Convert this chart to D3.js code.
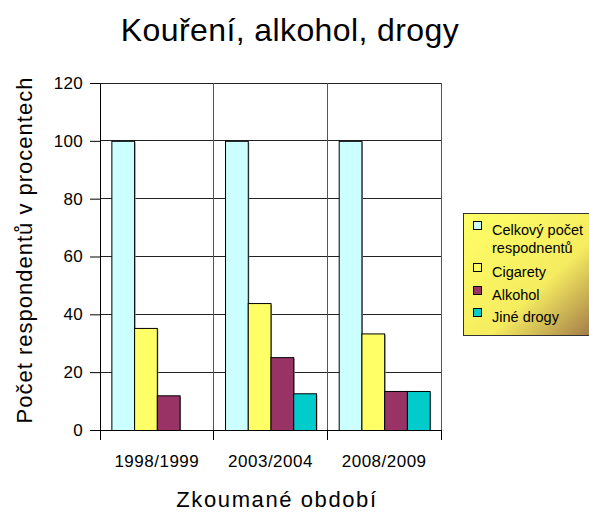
<!DOCTYPE html>
<html>
<head>
<meta charset="utf-8">
<title>Kouření, alkohol, drogy</title>
<script src="https://cdnjs.cloudflare.com/ajax/libs/d3/7.8.5/d3.min.js"></script>
<style>
  body { margin: 0; background: #fff; }
  svg { font-family: "Liberation Sans", Arial, sans-serif; }
</style>
</head>
<body>
<div id="chart"></div>
<script>
// data
var periods = ["1998/1999", "2003/2004", "2008/2009"];
var seriesNames = ["Celkový počet respodnentů", "Cigarety", "Alkohol", "Jiné drogy"];
var celkem   = [100, 100, 100];
var cigarety = [35.3, 43.9, 33.4];
var alkohol  = [12, 25.2, 13.5];
var jine     = [0, 12.7, 13.5];
var yTicks = [0, 20, 40, 60, 80, 100, 120];
var colors = ["#CCFFFF", "#FFFF66", "#993366", "#00CCCC"];

var values = [celkem, cigarety, alkohol, jine];

var W = 589, H = 513;
var plot = {left: 100, right: 441, top: 83, bottom: 430};

var svg = d3.select("#chart").append("svg")
    .attr("width", W).attr("height", H);

var x0 = d3.scaleBand().domain(periods).range([plot.left, plot.right]).padding(0);
var bw = x0.bandwidth();
var x1 = d3.scaleBand().domain(d3.range(seriesNames.length))
    .range([bw * 0.1, bw * 0.9]).padding(0);
var y = d3.scaleLinear().domain([0, 120]).range([plot.bottom, plot.top]);

// horizontal grid
svg.append("g").selectAll("line").data(yTicks).join("line")
    .attr("x1", plot.left).attr("x2", plot.right)
    .attr("y1", d => y(d)).attr("y2", d => y(d))
    .attr("stroke", "#222").attr("stroke-width", 1)
    .attr("shape-rendering", "crispEdges");

// vertical grid at category boundaries
var bounds = periods.map(p => x0(p)).concat([plot.right]);
svg.append("g").selectAll("line").data(bounds.slice(1)).join("line")
    .attr("x1", d => d).attr("x2", d => d)
    .attr("y1", plot.top).attr("y2", plot.bottom)
    .attr("stroke", "#555").attr("stroke-width", 1)
    .attr("shape-rendering", "crispEdges");

// bars
var groups = svg.append("g").selectAll("g").data(periods).join("g")
    .attr("transform", d => "translate(" + x0(d) + ",0)");

groups.selectAll("rect.shadow")
    .data((p, i) => values.map((v, s) => ({s: s, v: v[i]})).filter(d => d.v > 0))
    .join("rect").attr("class", "shadow")
    .attr("x", d => x1(d.s) + 1.5).attr("width", x1.bandwidth())
    .attr("y", d => y(d.v) + 1.5).attr("height", d => y(0) - y(d.v) - 1.5)
    .attr("fill", "#999");

groups.selectAll("rect.bar")
    .data((p, i) => values.map((v, s) => ({s: s, v: v[i]})).filter(d => d.v > 0))
    .join("rect").attr("class", "bar")
    .attr("x", d => x1(d.s) + 0.5).attr("width", x1.bandwidth())
    .attr("y", d => y(d.v) + 0.5).attr("height", d => y(0) - y(d.v))
    .attr("fill", d => colors[d.s])
    .attr("stroke", "#000").attr("stroke-width", 1);

// y axis
var yAxis = svg.append("g")
    .attr("transform", "translate(" + plot.left + ",0)")
    .call(d3.axisLeft(y).tickValues(yTicks).tickSize(10).tickPadding(7).tickSizeOuter(0));
yAxis.selectAll("text").style("font-size", "17px").style("letter-spacing", "0.3px").attr("fill", "#000");
yAxis.selectAll("line, path").attr("stroke", "#000");

// x axis
svg.append("line")
    .attr("x1", plot.left).attr("x2", plot.right)
    .attr("y1", plot.bottom).attr("y2", plot.bottom)
    .attr("stroke", "#000").attr("shape-rendering", "crispEdges");
svg.append("g").selectAll("line").data(bounds).join("line")
    .attr("x1", d => d).attr("x2", d => d)
    .attr("y1", plot.bottom).attr("y2", plot.bottom + 10)
    .attr("stroke", "#000").attr("shape-rendering", "crispEdges");
svg.append("g").selectAll("text").data(periods).join("text")
    .attr("x", d => x0(d) + bw / 2).attr("y", 467)
    .attr("text-anchor", "middle").style("font-size", "17px")
    .style("letter-spacing", "0.5px")
    .text(d => d);

// titles
svg.append("text").attr("x", 290).attr("y", 41)
    .attr("text-anchor", "middle").style("font-size", "32px")
    .style("letter-spacing", "0.4px")
    .text("Kouření, alkohol, drogy");
svg.append("text").attr("x", 277).attr("y", 507)
    .attr("text-anchor", "middle").style("font-size", "22px")
    .style("letter-spacing", "1.6px")
    .text("Zkoumané období");
svg.append("text")
    .attr("transform", "translate(32,250) rotate(-90)")
    .attr("text-anchor", "middle").style("font-size", "22px")
    .style("letter-spacing", "1px")
    .text("Počet respondentů v procentech");

// legend
var defs = svg.append("defs");
var grad = defs.append("linearGradient").attr("id", "lg")
    .attr("x1", "0").attr("y1", "0").attr("x2", "1").attr("y2", "1");
grad.append("stop").attr("offset", "0").attr("stop-color", "#FFFF66");
grad.append("stop").attr("offset", "0.6").attr("stop-color", "#F5EC60");
grad.append("stop").attr("offset", "1").attr("stop-color", "#A07848");

var lg = svg.append("g").attr("transform", "translate(463,213)");
lg.append("rect").attr("x", 0.5).attr("y", 0.5).attr("width", 130).attr("height", 122)
    .attr("fill", "url(#lg)").attr("stroke", "#333").attr("stroke-width", 1);

var rows = [
  {s: 0, lines: ["Celkový počet", "respodnentů"], y: 22},
  {s: 1, lines: ["Cigarety"], y: 64},
  {s: 2, lines: ["Alkohol"], y: 87},
  {s: 3, lines: ["Jiné drogy"], y: 109}
];
var item = lg.selectAll("g").data(rows).join("g");
item.append("rect")
    .attr("x", 10.5).attr("y", d => d.y - 13.5).attr("width", 8).attr("height", 8)
    .attr("fill", d => colors[d.s]).attr("stroke", "#000");
item.append("text")
    .attr("x", 29).attr("y", d => d.y)
    .style("font-size", "14.5px")
    .selectAll("tspan").data(d => d.lines).join("tspan")
    .attr("x", 29).attr("dy", (d, i) => i ? 18 : 0)
    .text(d => d);
</script>
</body>
</html>
